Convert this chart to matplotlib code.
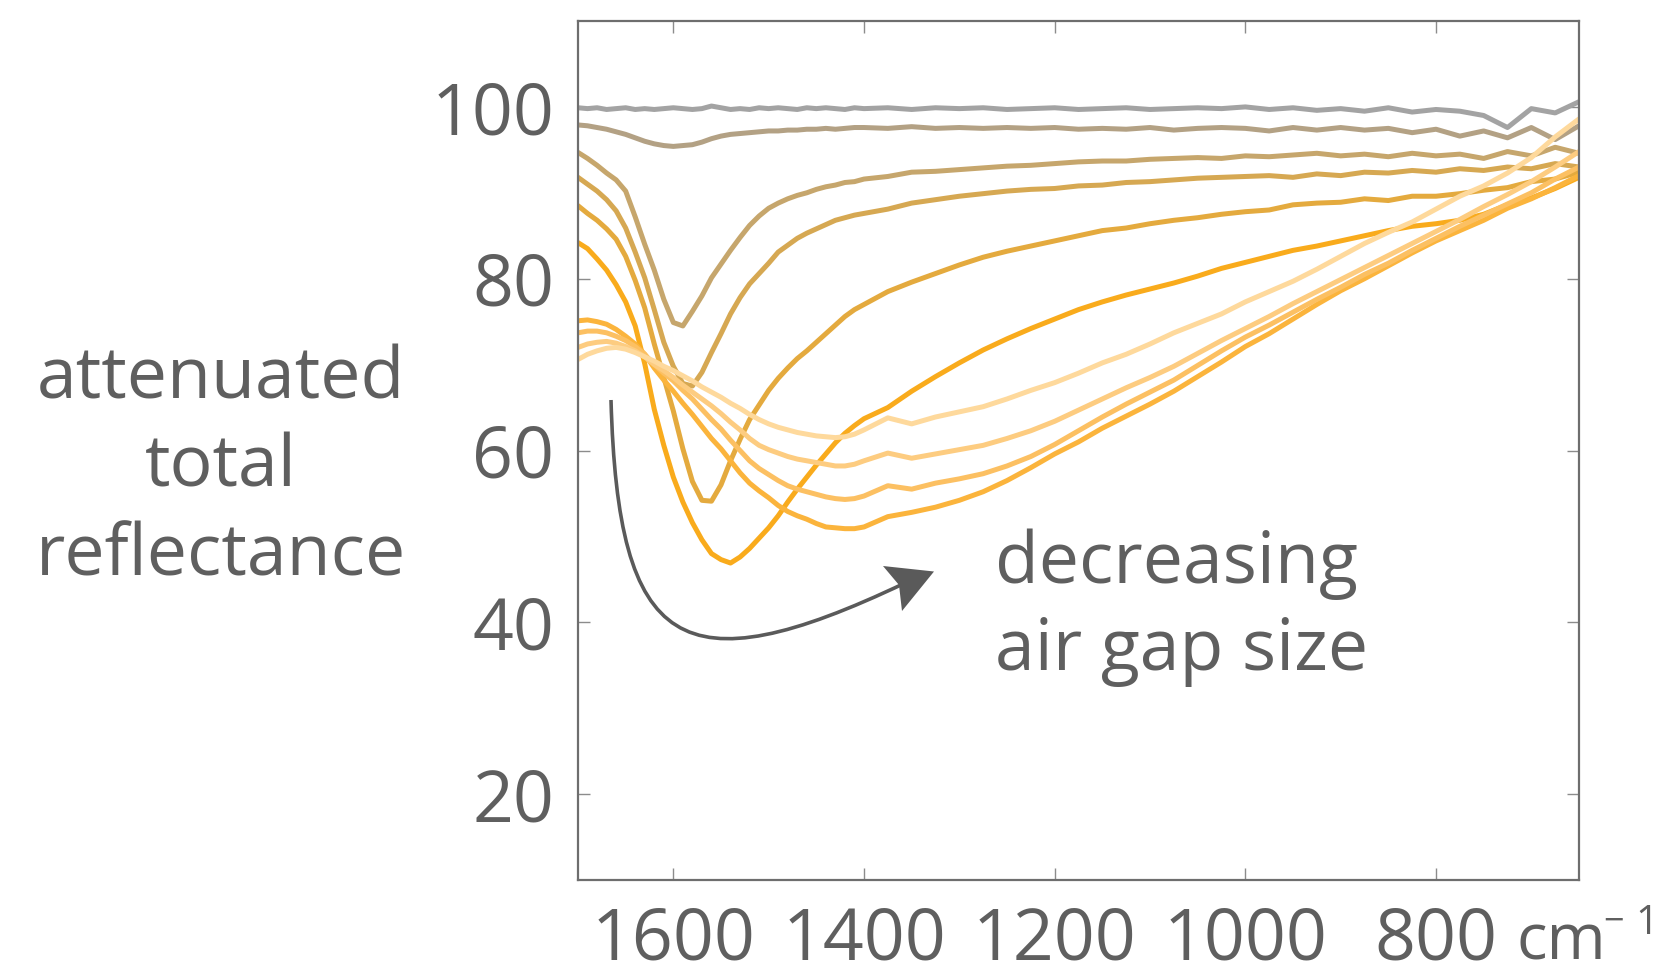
import matplotlib
matplotlib.use('Agg')
import matplotlib.pyplot as plt
from matplotlib.path import Path
from matplotlib.patches import PathPatch, Polygon

plt.rcParams['font.family'] = ['Open Sans', 'DejaVu Sans']

# ---------------- data ----------------
wavenumber = [1700, 1690, 1680, 1670, 1660, 1650, 1640, 1630, 1620, 1610,
              1600, 1590, 1580, 1570, 1560, 1550, 1540, 1530, 1520, 1510,
              1500, 1490, 1480, 1470, 1460, 1450, 1440, 1430, 1420, 1410,
              1400, 1375, 1350, 1325, 1300, 1275, 1250, 1225, 1200, 1175,
              1150, 1125, 1100, 1075, 1050, 1025, 1000, 975, 950, 925,
              900, 875, 850, 825, 800, 775, 750, 725, 700, 675, 650]

gap_1 = [99.9, 99.8, 99.9, 99.7, 99.8, 99.9, 99.7, 99.8, 99.7, 99.8,
         99.9, 99.8, 99.7, 99.8, 100.1, 99.9, 99.7, 99.8, 99.7, 99.9,
         99.8, 99.9, 99.8, 99.7, 99.9, 99.8, 99.9, 99.8, 99.7, 99.9,
         99.8, 99.9, 99.7, 99.9, 99.8, 99.9, 99.7, 99.8, 99.9, 99.7,
         99.8, 99.9, 99.7, 99.8, 99.9, 99.8, 100.0, 99.7, 99.9, 99.6,
         99.8, 99.5, 99.9, 99.4, 99.7, 99.5, 99.0, 97.6, 99.8, 99.3, 100.6]
gap_2 = [97.9, 97.8, 97.6, 97.4, 97.1, 96.8, 96.4, 96.0, 95.7, 95.5,
         95.4, 95.5, 95.6, 95.9, 96.3, 96.6, 96.8, 96.9, 97.0, 97.1,
         97.2, 97.2, 97.3, 97.3, 97.4, 97.4, 97.5, 97.4, 97.5, 97.6,
         97.6, 97.5, 97.7, 97.5, 97.6, 97.5, 97.6, 97.5, 97.6, 97.4,
         97.5, 97.4, 97.6, 97.3, 97.5, 97.6, 97.5, 97.2, 97.6, 97.3,
         97.6, 97.3, 97.5, 97.0, 97.4, 96.6, 97.2, 96.4, 97.6, 96.2, 97.8]
gap_3 = [94.7, 94.0, 93.2, 92.3, 91.5, 90.2, 87.2, 84.0, 81.0, 77.6,
         74.9, 74.5, 76.2, 78.0, 80.1, 81.7, 83.3, 84.8, 86.2, 87.3,
         88.2, 88.8, 89.3, 89.7, 90.0, 90.4, 90.7, 90.9, 91.2, 91.3,
         91.6, 91.9, 92.4, 92.5, 92.7, 92.9, 93.1, 93.2, 93.4, 93.6,
         93.7, 93.7, 93.9, 94.0, 94.1, 94.0, 94.3, 94.2, 94.4, 94.6,
         94.3, 94.5, 94.2, 94.6, 94.3, 94.5, 94.0, 94.8, 94.3, 95.3, 94.6]
gap_4 = [91.8, 91.0, 90.2, 89.2, 87.9, 85.9, 83.1, 80.1, 76.4, 72.6,
         69.8, 67.8, 67.5, 69.1, 71.4, 73.6, 75.9, 77.8, 79.4, 80.6,
         81.8, 83.1, 83.9, 84.7, 85.3, 85.8, 86.3, 86.8, 87.1, 87.4,
         87.6, 88.1, 88.8, 89.2, 89.6, 89.9, 90.2, 90.4, 90.5, 90.8,
         90.9, 91.2, 91.3, 91.5, 91.7, 91.8, 91.9, 92.0, 91.8, 92.2,
         92.0, 92.4, 92.3, 92.6, 92.4, 92.8, 92.6, 93.0, 92.8, 93.4, 93.0]
gap_5 = [88.5, 87.6, 86.8, 85.8, 84.6, 82.6, 79.8, 76.6, 72.4, 68.5,
         64.6, 60.2, 56.4, 54.2, 54.1, 56.0, 58.8, 61.3, 63.6, 65.3,
         67.0, 68.4, 69.6, 70.7, 71.6, 72.6, 73.6, 74.6, 75.6, 76.4,
         77.0, 78.5, 79.6, 80.6, 81.6, 82.5, 83.2, 83.8, 84.4, 85.0,
         85.6, 85.9, 86.4, 86.8, 87.1, 87.5, 87.8, 88.0, 88.6, 88.8,
         88.9, 89.3, 89.1, 89.6, 89.6, 89.9, 90.3, 90.6, 91.3, 91.6, 92.4]
gap_6 = [84.2, 83.5, 82.3, 81.0, 79.3, 77.3, 74.5, 70.1, 64.8, 60.6,
         56.9, 54.0, 51.6, 49.6, 48.0, 47.3, 46.9, 47.6, 48.6, 49.8,
         51.0, 52.4, 54.0, 55.5, 56.9, 58.3, 59.6, 60.9, 62.0, 62.9,
         63.7, 65.0, 66.9, 68.6, 70.2, 71.7, 73.0, 74.2, 75.3, 76.4,
         77.3, 78.1, 78.8, 79.5, 80.3, 81.2, 81.9, 82.6, 83.3, 83.8,
         84.4, 85.0, 85.6, 86.1, 86.4, 86.8, 87.5, 88.6, 89.4, 90.5, 91.8]
gap_7 = [75.1, 75.2, 75.0, 74.7, 74.1, 73.3, 72.4, 71.2, 69.6, 68.2,
         66.9, 65.5, 64.2, 62.8, 61.4, 60.2, 58.8, 57.4, 56.2, 55.3,
         54.5, 53.6, 52.9, 52.4, 52.0, 51.5, 51.1, 51.0, 50.9, 50.9,
         51.1, 52.3, 52.8, 53.4, 54.2, 55.2, 56.5, 58.0, 59.6, 61.0,
         62.6, 64.0, 65.4, 66.9, 68.6, 70.3, 72.1, 73.6, 75.3, 77.0,
         78.6, 80.0, 81.5, 83.0, 84.4, 85.6, 86.8, 88.2, 89.3, 90.6, 92.0]
gap_8 = [73.7, 73.9, 73.9, 73.7, 73.3, 72.8, 72.1, 71.2, 70.0, 69.0,
         68.1, 67.0, 66.0, 64.8, 63.6, 62.5, 61.2, 60.0, 58.8, 57.9,
         57.2, 56.5, 55.9, 55.5, 55.2, 54.9, 54.6, 54.4, 54.3, 54.4,
         54.7, 55.9, 55.5, 56.2, 56.7, 57.3, 58.2, 59.3, 60.7, 62.3,
         63.9, 65.4, 66.8, 68.2, 69.9, 71.6, 73.2, 74.6, 76.1, 77.6,
         79.0, 80.5, 81.8, 83.3, 84.7, 86.1, 87.4, 88.7, 90.0, 91.6, 93.0]
gap_9 = [72.0, 72.4, 72.6, 72.7, 72.5, 72.1, 71.6, 70.9, 70.0, 69.3,
         68.5, 67.6, 66.8, 66.0, 65.2, 64.3, 63.3, 62.4, 61.4, 60.6,
         60.1, 59.7, 59.3, 59.0, 58.8, 58.6, 58.4, 58.2, 58.2, 58.4,
         58.8, 59.7, 59.1, 59.6, 60.1, 60.6, 61.4, 62.3, 63.4, 64.7,
         66.0, 67.3, 68.5, 69.8, 71.3, 72.8, 74.2, 75.6, 77.1, 78.5,
         79.9, 81.3, 82.7, 84.1, 85.5, 86.9, 88.4, 89.8, 91.3, 93.0, 94.8]
gap_10 = [70.6, 71.2, 71.6, 71.9, 72.0, 71.8, 71.4, 70.9, 70.4, 69.8,
          69.3, 68.7, 68.1, 67.4, 66.8, 66.2, 65.5, 64.9, 64.2, 63.6,
          63.1, 62.7, 62.4, 62.1, 61.9, 61.7, 61.6, 61.5, 61.6, 61.9,
          62.4, 63.8, 63.1, 63.9, 64.5, 65.1, 66.0, 67.0, 67.9, 69.0,
          70.2, 71.2, 72.4, 73.7, 74.8, 75.9, 77.3, 78.5, 79.7, 81.1,
          82.6, 84.1, 85.4, 86.6, 88.1, 89.6, 90.8, 92.3, 94.1, 96.5, 98.6]

series = [gap_1, gap_2, gap_3, gap_4, gap_5, gap_6, gap_7, gap_8, gap_9, gap_10]
colors = ['#a3a3a3', '#b3a184', '#c6a66c', '#d6a852', '#e4aa3e',
          '#f9ab1c', '#fbb43c', '#fcc062', '#fdcc80', '#fed99c']

x_ticks = [1600, 1400, 1200, 1000, 800]
x_tick_labels = ['1600', '1400', '1200', '1000', '800']
y_ticks = [20, 40, 60, 80, 100]
y_tick_labels = ['20', '40', '60', '80', '100']
x_unit = 'cm'
x_unit_sign = '\u2212'
x_unit_exp = '1'
y_label = 'attenuated\ntotal\nreflectance'
note = 'decreasing\nair gap size'

# ---------------- figure ----------------
TEXT = '#5f5f5f'
W, H = 1654, 968
FS = 51.6
fig = plt.figure(figsize=(W / 100, H / 100), dpi=100)
ax = fig.add_axes([578 / W, 88 / H, 1001 / W, 859 / H])

for s, c in zip(series, colors):
    ax.plot(wavenumber, s, color=c, lw=3.6, solid_joinstyle='round',
            solid_capstyle='round')

ax.set_xlim(1700, 650)
ax.set_ylim(10, 110)
ax.set_xticks(x_ticks)
ax.set_xticklabels(x_tick_labels)
ax.set_yticks(y_ticks)
ax.set_yticklabels(y_tick_labels)
ax.tick_params(direction='in', length=8.6, width=1.0, color='#8c8c8c',
               top=True, right=True, labelsize=FS, labelcolor=TEXT)
ax.tick_params(axis='y', pad=17)
ax.tick_params(axis='x', pad=18)
for sp in ax.spines.values():
    sp.set_color('#6e6e6e')
    sp.set_linewidth(1.6)


def fp(x, y):
    return (x / W, 1 - y / H)


# unit after the 800 label
fig.text(*fp(1516, 960), x_unit, fontsize=46, color=TEXT,
         ha='left', va='baseline')
fig.text(*fp(1603, 932), x_unit_sign, fontsize=26, color=TEXT,
         ha='left', va='baseline')
fig.text(*fp(1635, 934), x_unit_exp, fontsize=29, color=TEXT,
         ha='left', va='baseline')

# y label (va='baseline' anchors the last line)
fig.text(*fp(221, 575), y_label, fontsize=FS, color=TEXT, ha='center',
         va='baseline', multialignment='center', linespacing=1.31)

# annotation text
fig.text(*fp(995, 670), note, fontsize=FS, color=TEXT, ha='left',
         va='baseline', linespacing=1.28)

# curved arrow
ARROW = '#5a5a5a'
verts = [fp(611, 400), fp(618, 650), fp(680, 690), fp(905, 583)]
codes = [Path.MOVETO, Path.CURVE4, Path.CURVE4, Path.CURVE4]
fig.add_artist(PathPatch(Path(verts, codes), facecolor='none',
                         edgecolor=ARROW, lw=2.6,
                         transform=fig.transFigure))
head = [fp(883, 566), fp(934, 571.5), fp(902, 611), fp(899, 585)]
fig.add_artist(Polygon(head, closed=True, facecolor=ARROW, edgecolor='none',
                       transform=fig.transFigure))

fig.savefig('out.png', dpi=100)
